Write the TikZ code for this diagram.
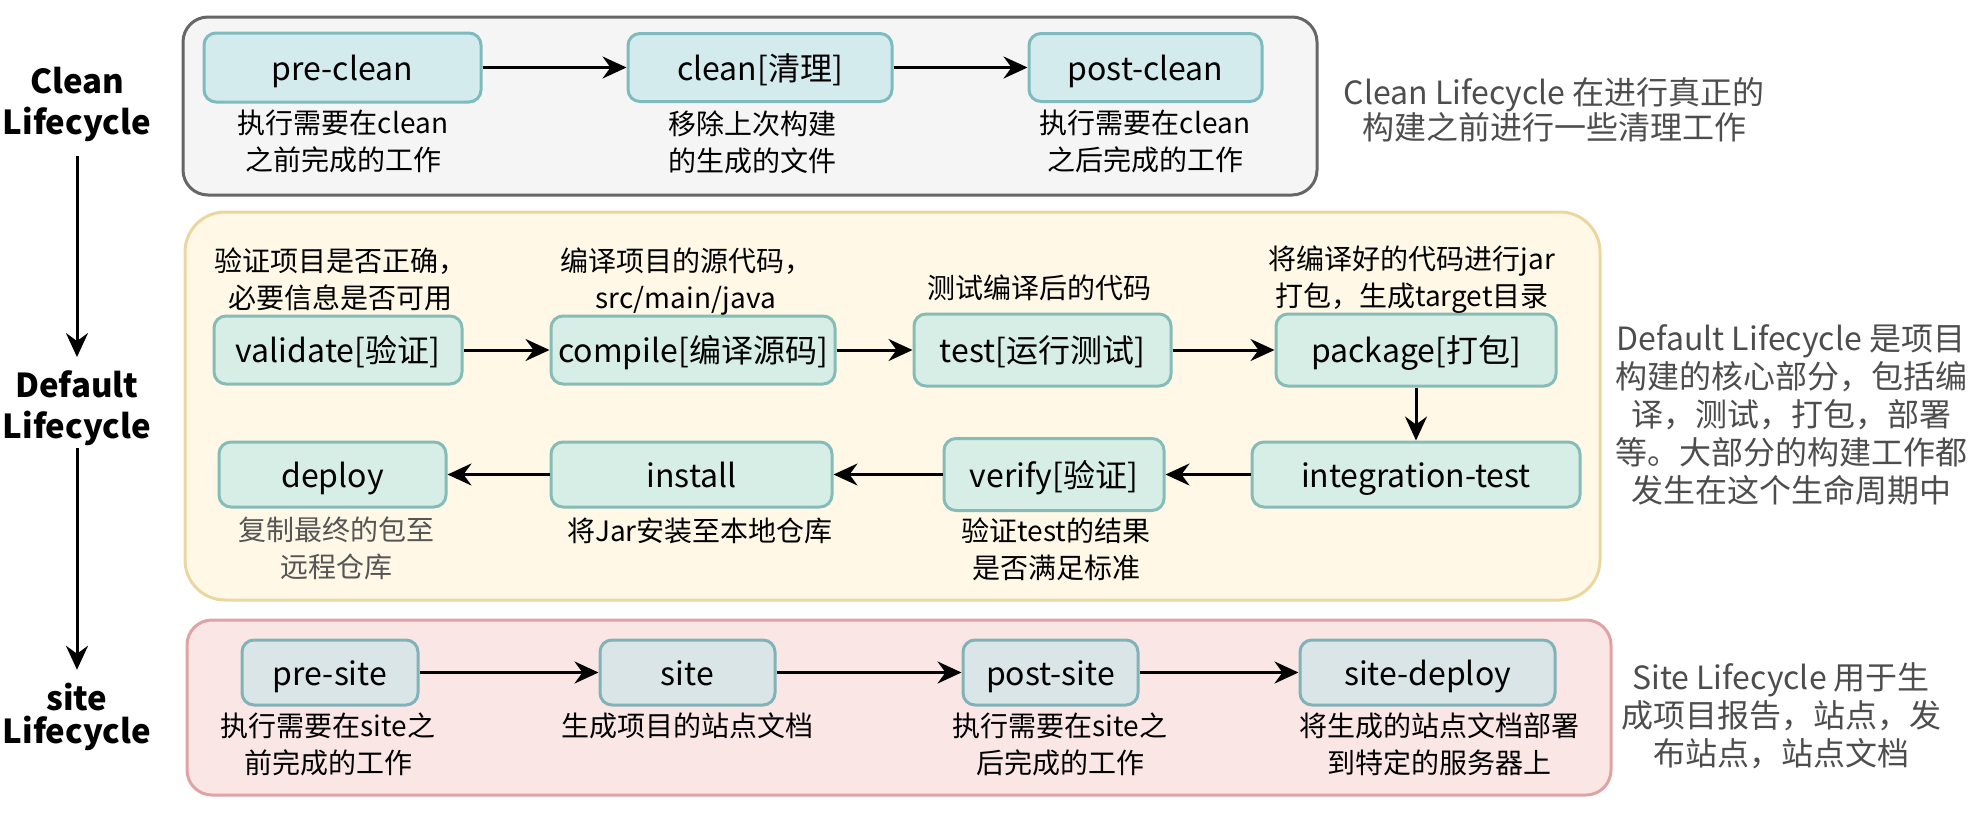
\documentclass[tikz,border=0pt]{standalone}
\usepackage{fontspec}
\setmainfont{Noto Sans CJK SC}
\usetikzlibrary{arrows.meta}
\definecolor{cleanbg}{HTML}{F5F5F5}
\definecolor{cleanline}{HTML}{666666}
\definecolor{defaultbg}{HTML}{FFF8E6}
\definecolor{defaultline}{HTML}{EAD7A0}
\definecolor{sitebg}{HTML}{FBE6E6}
\definecolor{siteline}{HTML}{E0A3A3}
\definecolor{cleanfill}{HTML}{D4EBEE}
\definecolor{cleanedge}{HTML}{7EBBBF}
\definecolor{defaultfill}{HTML}{D7EEE6}
\definecolor{defaultedge}{HTML}{86BCB8}
\definecolor{sitefill}{HTML}{D9E5E7}
\definecolor{siteedge}{HTML}{7FB3B8}
\definecolor{remarkgray}{HTML}{4D4D4D}
\definecolor{notegray}{HTML}{555555}
\begin{document}
\begin{tikzpicture}[x=0.5pt,y=0.5pt,yscale=-1,
    phase/.style={rounded corners=6pt,line width=1.5pt,inner sep=0pt,text height=13pt,text depth=0.4pt,font=\fontsize{16}{19}\selectfont},
    cleanphase/.style={phase,draw=cleanedge,fill=cleanfill},
    defphase/.style={phase,draw=defaultedge,fill=defaultfill},
    sitephase/.style={phase,draw=siteedge,fill=sitefill},
    flow/.style={line width=1.5pt,-{Stealth[length=12pt,width=11pt,inset=4pt]}},
    note/.style={align=center,inner sep=0pt,font=\fontsize{14}{18.5}\selectfont},
    remark/.style={align=center,inner sep=0pt,text=remarkgray,font=\fontsize{16}{19}\selectfont},
    cyclelbl/.style={align=center,inner sep=0pt,font=\bfseries\fontsize{16.5}{20.5}\selectfont}]
  \useasboundingbox (0,0) rectangle (1986,814);

  \draw[line width=1.5pt,draw=cleanline,fill=cleanbg,rounded corners=12.5pt] (183,17) rectangle (1317,195);
  \draw[line width=1.5pt,draw=defaultline,fill=defaultbg,rounded corners=20pt] (185,212) rectangle (1600,600);
  \draw[line width=1.5pt,draw=siteline,fill=sitebg,rounded corners=12.5pt] (187,620) rectangle (1611,795);

  \node[cyclelbl] (cleanlbl) at (77,104) {Clean\\Lifecycle};
  \node[cyclelbl] (defaultlbl) at (77,408) {Default\\Lifecycle};
  \node[cyclelbl,font=\bfseries\fontsize{16.5}{16.5}\selectfont] (sitelbl) at (77,717) {site\\Lifecycle};
  \draw[flow,shorten <=7pt,shorten >=6.5pt] (cleanlbl) -- (defaultlbl);
  \draw[flow,shorten <=1pt,shorten >=6.5pt] (defaultlbl) -- (sitelbl);

  \node[cleanphase,minimum width=138.5pt,minimum height=34.5pt] (preclean) at (342.5,67.5) {pre-clean};
  \node[cleanphase,minimum width=132pt,minimum height=34pt] (clean) at (760,67.5) {clean[清理]};
  \node[cleanphase,minimum width=116.5pt,minimum height=34pt] (postclean) at (1145.5,67.5) {post-clean};
  \draw[flow] (preclean) -- (clean);
  \draw[flow] (clean) -- (postclean);
  \node[note] (precleannote) at (343,141) {执行需要在clean\\之前完成的工作};
  \node[note] (cleannote) at (752,142) {移除上次构建\\的生成的文件};
  \node[note] (postcleannote) at (1145,141) {执行需要在clean\\之后完成的工作};
  \node[remark,font=\fontsize{16}{17.5}\selectfont] (cleanremark) at (1554,110) {Clean Lifecycle 在进行真正的\\构建之前进行一些清理工作};

  \node[defphase,minimum width=124pt,minimum height=34pt] (validate) at (338,350) {validate[验证]};
  \node[defphase,minimum width=142pt,minimum height=34pt] (compile) at (693,350) {compile[编译源码]};
  \node[defphase,minimum width=128.5pt,minimum height=36pt] (test) at (1042.5,350) {test[运行测试]};
  \node[defphase,minimum width=140pt,minimum height=36pt] (package) at (1416,350) {package[打包]};
  \node[defphase,minimum width=164pt,minimum height=32.5pt] (integration) at (1416,474.5) {integration-test};
  \node[defphase,minimum width=110pt,minimum height=36pt] (verify) at (1054,474.5) {verify[验证]};
  \node[defphase,minimum width=140.5pt,minimum height=32.5pt] (install) at (691.5,474.5) {install};
  \node[defphase,minimum width=113.5pt,minimum height=32.5pt] (deploy) at (332.5,474.5) {deploy};
  \draw[flow] (validate) -- (compile);
  \draw[flow] (compile) -- (test);
  \draw[flow] (test) -- (package);
  \draw[flow] (package) -- (integration);
  \draw[flow] (integration) -- (verify);
  \draw[flow] (verify) -- (install);
  \draw[flow] (install) -- (deploy);
  \node[note] (validatenote) at (340,279) {验证项目是否正确，\\必要信息是否可用};
  \node[note] (compilenote) at (686,282) {编译项目的源代码，\\src/main/java};
  \node[note] (testnote) at (1039,288) {测试编译后的代码};
  \node[note] (packagenote) at (1412,280) {将编译好的代码进行jar\\打包，生成target目录};
  \node[note] (verifynote) at (1056,549) {验证test的结果\\是否满足标准};
  \node[note] (installnote) at (700,531) {将Jar安装至本地仓库};
  \node[note,text=notegray] (deploynote) at (336,548) {复制最终的包至\\远程仓库};
  \node[remark] (defaultremark) at (1791,415) {Default Lifecycle 是项目\\构建的核心部分，包括编\\译，测试，打包，部署\\等。大部分的构建工作都\\发生在这个生命周期中};

  \node[sitephase,minimum width=88pt,minimum height=32.5pt] (presite) at (330,672.5) {pre-site};
  \node[sitephase,minimum width=87.5pt,minimum height=32.5pt] (site) at (687.5,672.5) {site};
  \node[sitephase,minimum width=87.5pt,minimum height=32.5pt] (postsite) at (1050.5,672.5) {post-site};
  \node[sitephase,minimum width=127.5pt,minimum height=32.5pt] (sitedeploy) at (1427.5,672.5) {site-deploy};
  \draw[flow] (presite) -- (site);
  \draw[flow] (site) -- (postsite);
  \draw[flow] (postsite) -- (sitedeploy);
  \node[note] (presitenote) at (328,744) {执行需要在site之\\前完成的工作};
  \node[note] (sitenote) at (687,726) {生成项目的站点文档};
  \node[note] (postsitenote) at (1060,744) {执行需要在site之\\后完成的工作};
  \node[note] (sitedeploynote) at (1439,744) {将生成的站点文档部署\\到特定的服务器上};
  \node[remark] (siteremark) at (1781,716) {Site Lifecycle 用于生\\成项目报告，站点，发\\布站点，站点文档};
\end{tikzpicture}
\end{document}
